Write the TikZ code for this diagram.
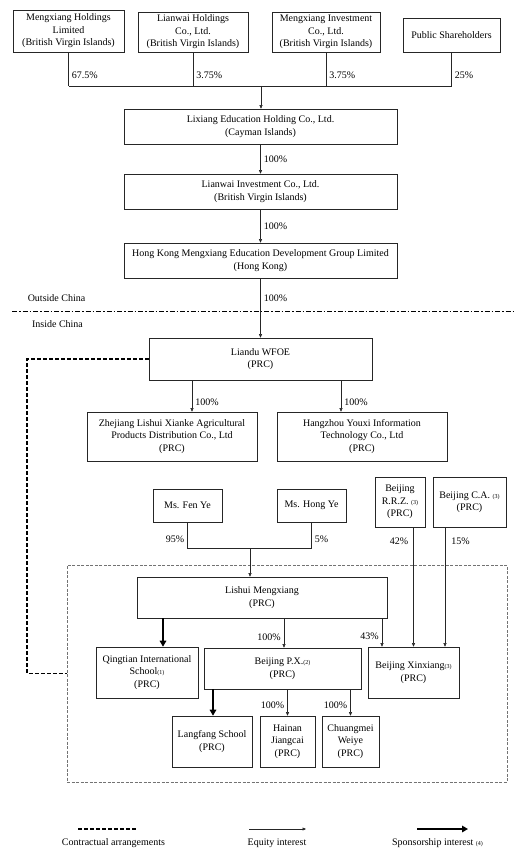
\documentclass[tikz,border=0pt]{standalone}
\usepackage{fontspec}
\setmainfont{Liberation Serif}
\usetikzlibrary{arrows.meta}
\newcommand{\smallref}[1]{{\fontsize{6}{6}\selectfont(#1)}}
\begin{document}
\begin{tikzpicture}[
  x=1pt, y=-1pt,
  font=\fontsize{10}{12.5}\selectfont,
  box/.style={rectangle, draw=black!85, line width=0.6pt, align=center, inner sep=1pt},
  pct/.style={inner sep=3pt},
  link/.style={draw=black!85, line width=0.5pt},
  eq/.style={link, -{Triangle[length=3.5pt,width=3pt]}},
  spons/.style={line width=1.8pt, -{Triangle[length=6pt,width=6.5pt]}},
  contract/.style={line width=1.1pt, dash pattern=on 4pt off 2pt}
]
\useasboundingbox (0,0) rectangle (530,864);

\node[box, minimum width=111pt, minimum height=42pt] (mhl) at (68.5,31) {Mengxiang Holdings\\Limited\\(British Virgin Islands)};
\node[box, minimum width=110pt, minimum height=40pt] (lhc) at (193,32) {Lianwai Holdings\\Co., Ltd.\\(British Virgin Islands)};
\node[box, minimum width=108pt, minimum height=40pt] (mic) at (326,32) {Mengxiang Investment\\Co., Ltd.\\(British Virgin Islands)};
\node[box, minimum width=97pt, minimum height=34pt] (pub) at (451.5,35) {Public Shareholders};

\node[box, minimum width=273pt, minimum height=35pt] (lix) at (260.5,126.5) {Lixiang Education Holding Co., Ltd.\\(Cayman Islands)};
\node[box, minimum width=273pt, minimum height=35pt] (lwi) at (260.5,191.5) {Lianwai Investment Co., Ltd.\\(British Virgin Islands)};
\node[box, minimum width=273pt, minimum height=35pt] (hkm) at (260.5,260.5) {Hong Kong Mengxiang Education Development Group Limited\\(Hong Kong)};

\node (out) at (56.5,298) {Outside China};
\node (in) at (57.5,324) {Inside China};
\draw[line width=0.9pt, dash pattern=on 5pt off 2pt on 1.5pt off 2pt] (12,311) -- (515,311);

\node[box, minimum width=223pt, minimum height=42pt] (liandu) at (260.5,359) {Liandu WFOE\\(PRC)};
\node[box, minimum width=170pt, minimum height=49pt] (zj) at (172,436.5) {Zhejiang Lishui Xianke Agricultural\\Products Distribution Co., Ltd\\(PRC)};
\node[box, minimum width=170pt, minimum height=49pt] (hz) at (362,436.5) {Hangzhou Youxi Information\\Technology Co., Ltd\\(PRC)};

\node[box, minimum width=69pt, minimum height=33pt] (fen) at (187.5,505.5) {Ms. Fen Ye};
\node[box, minimum width=69pt, minimum height=33pt] (hong) at (311.5,505.5) {Ms. Hong Ye};
\node[box, minimum width=50pt, minimum height=50pt] (rrz) at (400,502) {Beijing\\R.R.Z. \smallref{3}\\(PRC)};
\node[box, minimum width=73pt, minimum height=50pt] (ca) at (469.5,502) {Beijing C.A. \smallref{3}\\(PRC)};

% consolidated affiliated entities
\node[draw=black!55, line width=0.6pt, dash pattern=on 3pt off 1.5pt, minimum width=440pt, minimum height=217pt, inner sep=0pt] (vie) at (287,673.5) {};
\node[box, minimum width=250pt, minimum height=41pt] (lishui) at (262,597.5) {Lishui Mengxiang\\(PRC)};
\node[box, minimum width=102pt, minimum height=51pt] (qt) at (147,672.5) {Qingtian International\\School\smallref{1}\\(PRC)};
\node[box, minimum width=157pt, minimum height=41pt] (px) at (282.5,668.5) {Beijing P.X.\smallref{2}\\(PRC)};
\node[box, minimum width=91pt, minimum height=51pt] (bx) at (413.5,672.5) {Beijing Xinxiang\smallref{3}\\(PRC)};
\node[box, minimum width=80pt, minimum height=51pt] (lf) at (212,741.5) {Langfang School\\(PRC)};
\node[box, minimum width=55pt, minimum height=51pt] (hn) at (287.5,741.5) {Hainan\\Jiangcai\\(PRC)};
\node[box, minimum width=57pt, minimum height=51pt] (cm) at (350.5,741.5) {Chuangmei\\Weiye\\(PRC)};

% shareholders of the listed company
\coordinate (top) at (261,86);
\draw[link] (mhl.south) -- node[pct, right, pos=0.68] {67.5\%} (mhl.south |- top);
\draw[link] (lhc.south) -- node[pct, right, pos=0.68] {3.75\%} (lhc.south |- top);
\draw[link] (mic.south) -- node[pct, right, pos=0.68] {3.75\%} (mic.south |- top);
\draw[link] (pub.south) -- node[pct, right, pos=0.68] {25\%} (pub.south |- top);
\draw[link] (mhl.south |- top) -- (pub.south |- top);
\draw[eq] (top) -- (top |- lix.north);

\draw[eq] (lix) -- node[pct, right] {100\%} (lwi);
\draw[eq] (lwi) -- node[pct, right] {100\%} (hkm);
\draw[eq] (hkm) -- node[pct, right, pos=0.33] {100\%} (liandu);

\draw[eq] ([xshift=20pt]zj.north |- liandu.south) -- node[pct, right, pos=0.7] {100\%} ([xshift=20pt]zj.north);
\draw[eq] ([xshift=-21pt]hz.north |- liandu.south) -- node[pct, right, pos=0.7] {100\%} ([xshift=-21pt]hz.north);

\coordinate (fh) at (250,548);
\draw[link] (fen.south) -- node[pct, left, pos=0.65] {95\%} (fen.south |- fh) -- (hong.south |- fh) -- node[pct, right, pos=0.35] {5\%} (hong.south);
\draw[eq] (fh) -- (fh |- lishui.north);

\draw[eq] (rrz.south -| bx.north) -- node[pct, left, pos=0.12, xshift=-2pt] {42\%} (bx.north);
\draw[eq] ([xshift=-24.5pt]ca.south) -- node[pct, right, pos=0.12, xshift=3pt] {15\%} ([xshift=-24.5pt]ca.south |- bx.north);

\draw[spons] ([xshift=16pt]qt.north |- lishui.south) -- ([xshift=16pt]qt.north);
\draw[eq] ([xshift=1.5pt]px.north |- lishui.south) -- node[pct, left, pos=0.63] {100\%} ([xshift=1.5pt]px.north);
\draw[eq] ([xshift=-31.5pt]bx.north |- lishui.south) -- node[pct, left, pos=0.63] {43\%} ([xshift=-31.5pt]bx.north);

\draw[spons] ([xshift=1pt]lf.north |- px.south) -- ([xshift=1pt]lf.north);
\draw[eq] (hn.north |- px.south) -- node[pct, left, pos=0.6] {100\%} (hn.north);
\draw[eq] (cm.north |- px.south) -- node[pct, left, pos=0.6] {100\%} (cm.north);

\coordinate (ctl) at (27,359);
\draw[contract] (liandu.west) -- (ctl) |- (vie.west);

% legend
\coordinate (k1a) at (78,829);
\coordinate (k1b) at (136,829);
\draw[contract] (k1a) -- (k1b);
\node (k1) at (113.5,843) {Contractual arrangements};
\coordinate (k2a) at (249,829);
\coordinate (k2b) at (306,829);
\draw[eq] (k2a) -- (k2b);
\node (k2) at (277,843) {Equity interest};
\coordinate (k3a) at (417,829);
\coordinate (k3b) at (468,829);
\draw[spons] (k3a) -- (k3b);
\node (k3) at (437.5,843) {Sponsorship interest \smallref{4}};
\end{tikzpicture}
\end{document}
